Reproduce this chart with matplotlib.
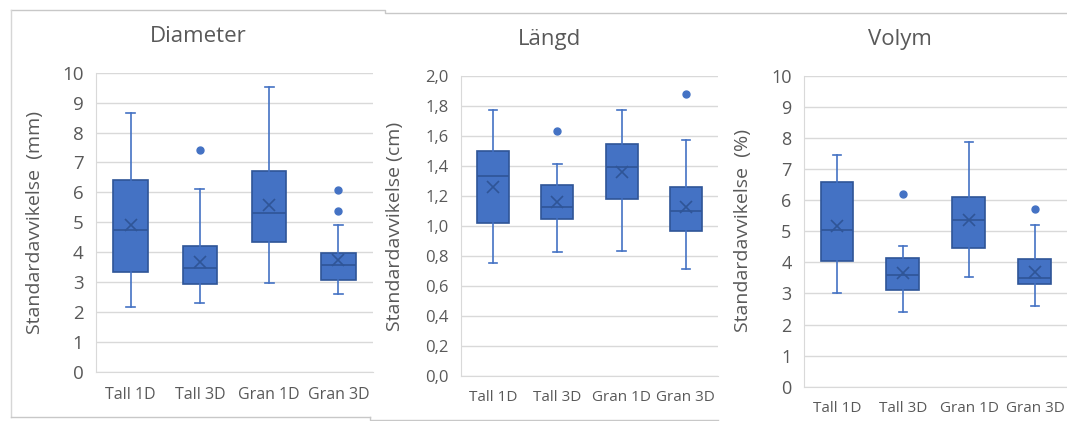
import numpy as np
import matplotlib.pyplot as plt
from matplotlib.lines import Line2D
from matplotlib.ticker import FuncFormatter

plt.rcParams['font.family'] = ['Open Sans', 'DejaVu Sans']

categories = ['Tall 1D', 'Tall 3D', 'Gran 1D', 'Gran 3D']

# Diameter (mm)
diam_whislo = [2.17, 2.30, 2.97, 2.61]
diam_q1 = [3.33, 2.94, 4.36, 3.08]
diam_med = [4.75, 3.49, 5.31, 3.57]
diam_mean = [4.92, 3.67, 5.58, 3.75]
diam_q3 = [6.42, 4.22, 6.70, 3.97]
diam_whishi = [8.67, 6.12, 9.51, 4.91]
diam_fliers = [[], [7.42], [], [6.08, 5.37]]

# Längd (cm)
langd_whislo = [0.75, 0.823, 0.83, 0.71]
langd_q1 = [1.017, 1.046, 1.177, 0.968]
langd_med = [1.33, 1.123, 1.393, 1.097]
langd_mean = [1.257, 1.157, 1.357, 1.126]
langd_q3 = [1.50, 1.27, 1.544, 1.257]
langd_whishi = [1.77, 1.415, 1.77, 1.573]
langd_fliers = [[], [1.63], [], [1.882]]

# Volym (%)
vol_whislo = [3.00, 2.39, 3.53, 2.60]
vol_q1 = [4.05, 3.12, 4.48, 3.29]
vol_med = [5.03, 3.58, 5.35, 3.51]
vol_mean = [5.18, 3.65, 5.35, 3.69]
vol_q3 = [6.60, 4.15, 6.09, 4.11]
vol_whishi = [7.45, 4.54, 7.89, 5.19]
vol_fliers = [[], [6.21], [], [5.71]]

W, H = 1067, 421
BLUE = '#4472C4'
DARK = '#2F5597'
GRID = '#D9D9D9'
TXT = '#595959'

fig = plt.figure(figsize=(W / 100, H / 100), dpi=100)
fig.patch.set_facecolor('white')


def px_axes(left, top, right, bottom):
    return fig.add_axes([left / W, 1 - bottom / H, (right - left) / W, (bottom - top) / H])


def px_line(xs, ys, color):
    fig.add_artist(Line2D([x / W for x in xs], [1 - y / H for y in ys],
                          transform=fig.transFigure, color=color, lw=1.0))


def make_stats(whislo, q1, med, mean, q3, whishi, fliers):
    stats = []
    for i in range(len(categories)):
        stats.append(dict(label=categories[i], whislo=whislo[i], q1=q1[i], med=med[i],
                          mean=mean[i], q3=q3[i], whishi=whishi[i], fliers=fliers[i]))
    return stats


def draw_panel(ax, stats, ymax, step, tick_fs, xlab_fs, xpad, fmt=None):
    ax.bxp(stats, positions=np.arange(1, 5), widths=0.5, capwidths=0.13,
           showmeans=True, patch_artist=True,
           boxprops=dict(facecolor=BLUE, edgecolor=DARK, linewidth=1.2),
           whiskerprops=dict(color=BLUE, linewidth=1.2),
           capprops=dict(color=BLUE, linewidth=1.2),
           medianprops=dict(color=DARK, linewidth=1.2),
           meanprops=dict(marker='x', markeredgecolor=DARK, markersize=9, markeredgewidth=1.2),
           flierprops=dict(marker='o', markerfacecolor=BLUE, markeredgecolor=BLUE, markersize=5))
    ax.set_xlim(0.5, 4.5)
    ax.set_ylim(0, ymax)
    ax.set_yticks(np.arange(0, ymax + step / 2, step))
    if fmt:
        ax.yaxis.set_major_formatter(FuncFormatter(fmt))
    ax.set_axisbelow(True)
    ax.yaxis.grid(True, color=GRID, lw=1.0)
    for s in ['top', 'right']:
        ax.spines[s].set_visible(False)
    for s in ['left', 'bottom']:
        ax.spines[s].set_color(GRID)
    ax.tick_params(axis='both', length=0, colors=TXT)
    ax.tick_params(axis='y', labelsize=tick_fs, pad=9)
    ax.tick_params(axis='x', labelsize=xlab_fs, pad=xpad)


ax1 = px_axes(96, 72.7, 373, 372)
draw_panel(ax1, make_stats(diam_whislo, diam_q1, diam_med, diam_mean, diam_q3, diam_whishi, diam_fliers),
           10, 1, 13.5, 11.5, 11)

ax2 = px_axes(461, 76, 718, 375.7)
draw_panel(ax2, make_stats(langd_whislo, langd_q1, langd_med, langd_mean, langd_q3, langd_whishi, langd_fliers),
           2.0, 0.2, 12, 11, 10, fmt=lambda v, p: f'{v:.1f}'.replace('.', ','))

ax3 = px_axes(804, 76, 1068, 386.7)
draw_panel(ax3, make_stats(vol_whislo, vol_q1, vol_med, vol_mean, vol_q3, vol_whishi, vol_fliers),
           10, 1, 13, 11, 10)

# titles and y-axis labels
fig.text(198 / W, 1 - 37 / H, 'Diameter', ha='center', va='center', fontsize=16, color=TXT)
fig.text(550 / W, 1 - 39 / H, 'Längd', ha='center', va='center', fontsize=16, color=TXT)
fig.text(900 / W, 1 - 40 / H, 'Volym', ha='center', va='center', fontsize=16, color=TXT)
fig.text(35 / W, 1 - 222 / H, 'Standardavvikelse  (mm)', ha='center', va='center',
         rotation=90, fontsize=14, color=TXT)
fig.text(395 / W, 1 - 226 / H, 'Standardavvikelse (cm)', ha='center', va='center',
         rotation=90, fontsize=14, color=TXT)
fig.text(743 / W, 1 - 231 / H, 'Standardavvikelse  (%)', ha='center', va='center',
         rotation=90, fontsize=14, color=TXT)

# panel frames
px_line([10.5, 385, 385, W], [9.5, 9.5, 12.5, 12.5], '#C8C8C8')
px_line([10.5, 10.5], [9.5, 417], '#D6D6D6')
px_line([10.5, 370], [417, 417], '#C8C8C8')
px_line([370, 370, 718], [417, 419.5, 419.5], '#C8C8C8')

fig.savefig('out.png', dpi=100, facecolor='white')
